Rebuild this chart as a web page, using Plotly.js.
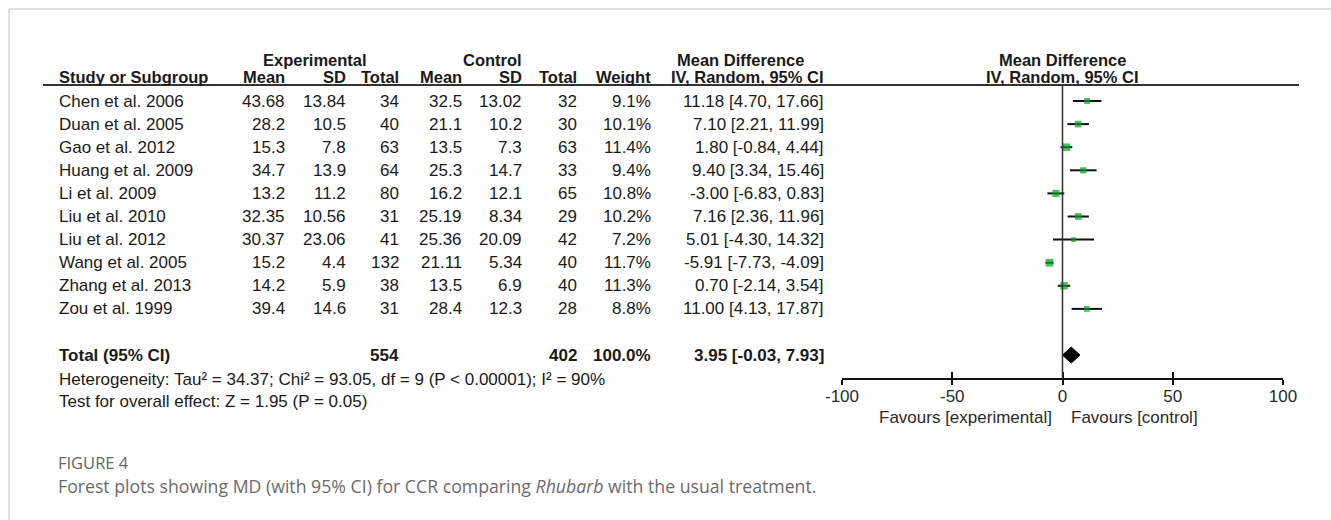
<!DOCTYPE html>
<html>
<head>
<meta charset="utf-8">
<script src="https://cdn.plot.ly/plotly-3.0.1.min.js"></script>
<style>
  html, body { margin: 0; padding: 0; background: #ffffff; }
  #chart { width: 1331px; height: 520px; }
</style>
</head>
<body>
<div id="chart"></div>
<script>
// ---------------- data ----------------
const studies = ["Chen et al. 2006", "Duan et al. 2005", "Gao et al. 2012", "Huang et al. 2009", "Li et al. 2009",
                 "Liu et al. 2010", "Liu et al. 2012", "Wang et al. 2005", "Zhang et al. 2013", "Zou et al. 1999"];
const expMean  = [43.68, 28.2, 15.3, 34.7, 13.2, 32.35, 30.37, 15.2, 14.2, 39.4];
const expSD    = [13.84, 10.5, 7.8, 13.9, 11.2, 10.56, 23.06, 4.4, 5.9, 14.6];
const expN     = [34, 40, 63, 64, 80, 31, 41, 132, 38, 31];
const ctrlMean = [32.5, 21.1, 13.5, 25.3, 16.2, 25.19, 25.36, 21.11, 13.5, 28.4];
const ctrlSD   = [13.02, 10.2, 7.3, 14.7, 12.1, 8.34, 20.09, 5.34, 6.9, 12.3];
const ctrlN    = [32, 30, 63, 33, 65, 29, 42, 40, 40, 28];
const weight   = [9.1, 10.1, 11.4, 9.4, 10.8, 10.2, 7.2, 11.7, 11.3, 8.8];
const md       = [11.18, 7.10, 1.80, 9.40, -3.00, 7.16, 5.01, -5.91, 0.70, 11.00];
const ciLow    = [4.70, 2.21, -0.84, 3.34, -6.83, 2.36, -4.30, -7.73, -2.14, 4.13];
const ciHigh   = [17.66, 11.99, 4.44, 15.46, 0.83, 11.96, 14.32, -4.09, 3.54, 17.87];

const totalLabel  = "Total (95% CI)";
const totalExpN   = 554;
const totalCtrlN  = 402;
const totalWeight = 100.0;
const totalMD     = 3.95;
const totalLow    = -0.03;
const totalHigh   = 7.93;

const heterogeneityText = "Heterogeneity: Tau² = 34.37; Chi² = 93.05, df = 9 (P < 0.00001); I² = 90%";
const overallText       = "Test for overall effect: Z = 1.95 (P = 0.05)";

const tickValues = [-100, -50, 0, 50, 100];
const tickLabels = ["-100", "-50", "0", "50", "100"];
const favoursLeft  = "Favours [experimental]";
const favoursRight = "Favours [control]";

const figureLabel = "FIGURE 4";
const captionText = "Forest plots showing MD (with 95% CI) for CCR comparing <i>Rhubarb</i> with the usual treatment.";

// ---------------- layout helpers ----------------
const W = 1331, H = 520;
const ROW0 = 101, ROWSTEP = 23.1;          // pixel y of first row, row spacing
const px = v => v / W;                      // pixel x -> paper
const py = v => 1 - v / H;                  // pixel y -> paper
const FONT = "'Liberation Sans', Arial, sans-serif";
const CAPFONT = "'Open Sans', 'Noto Sans', sans-serif";
const TXT = "#1a1a1a";
const nRows = studies.length;
const totalRow = nRows + 1;

const fmt2 = v => v.toFixed(2);
const ciStr = (m, l, h) => fmt2(m) + " [" + fmt2(l) + ", " + fmt2(h) + "]";

const annotations = [];
function addText(text, x, y, anchor, opts) {
  opts = opts || {};
  annotations.push({
    text: text, x: x, y: y, xref: "paper", yref: opts.yref || "y",
    xanchor: anchor, yanchor: "middle", showarrow: false,
    font: { family: opts.family || FONT, size: opts.size || 17, color: opts.color || TXT,
            weight: opts.bold ? 700 : 400 },
    borderpad: 0
  });
}

// column right edges (pixels)
const colX = { name: 58, eMean: 286, eSD: 347, eN: 400, cMean: 463, cSD: 523, cN: 578, w: 652, ci: 825 };
const GROUP_Y = 60, HEAD_Y = 77, UNDER_Y = 85, HEAD_SIZE = 16.5;

// headers
const hb = { bold: true, yref: "paper", size: HEAD_SIZE };
addText("Experimental", px(315), py(GROUP_Y), "center", hb);
addText("Control", px(492), py(GROUP_Y), "center", hb);
addText("Mean Difference", px(740), py(GROUP_Y), "center", hb);
addText("Mean Difference", px(1062), py(GROUP_Y), "center", hb);
addText("Study or Subgroup", px(colX.name), py(HEAD_Y), "left", hb);
addText("Mean", px(colX.eMean), py(HEAD_Y), "right", hb);
addText("SD", px(colX.eSD), py(HEAD_Y), "right", hb);
addText("Total", px(colX.eN), py(HEAD_Y), "right", hb);
addText("Mean", px(colX.cMean), py(HEAD_Y), "right", hb);
addText("SD", px(colX.cSD), py(HEAD_Y), "right", hb);
addText("Total", px(colX.cN), py(HEAD_Y), "right", hb);
addText("Weight", px(colX.w), py(HEAD_Y), "right", hb);
addText("IV, Random, 95% CI", px(colX.ci), py(HEAD_Y), "right", hb);
addText("IV, Random, 95% CI", px(1062), py(HEAD_Y), "center", hb);

// study rows
for (let i = 0; i < nRows; i++) {
  addText(studies[i], px(colX.name), i, "left");
  addText(String(expMean[i]), px(colX.eMean), i, "right");
  addText(String(expSD[i]), px(colX.eSD), i, "right");
  addText(String(expN[i]), px(colX.eN), i, "right");
  addText(String(ctrlMean[i]), px(colX.cMean), i, "right");
  addText(String(ctrlSD[i]), px(colX.cSD), i, "right");
  addText(String(ctrlN[i]), px(colX.cN), i, "right");
  addText(weight[i].toFixed(1) + "%", px(colX.w), i, "right");
  addText(ciStr(md[i], ciLow[i], ciHigh[i]), px(colX.ci), i, "right");
}

// total row
addText(totalLabel, px(colX.name), totalRow, "left", { bold: true });
addText(String(totalExpN), px(colX.eN), totalRow, "right", { bold: true });
addText(String(totalCtrlN), px(colX.cN), totalRow, "right", { bold: true });
addText(totalWeight.toFixed(1) + "%", px(colX.w), totalRow, "right", { bold: true });
addText(ciStr(totalMD, totalLow, totalHigh), px(colX.ci), totalRow, "right", { bold: true });

// footnotes
addText(heterogeneityText, px(colX.name), py(379), "left", { yref: "paper" });
addText(overallText, px(colX.name), py(401), "left", { yref: "paper" });

// favours labels
addText(favoursLeft, px(1053), py(417), "right", { yref: "paper", color: "#2a2a2a" });
addText(favoursRight, px(1070), py(417), "left", { yref: "paper", color: "#2a2a2a" });

// caption
addText(figureLabel, px(57), py(462), "left", { yref: "paper", family: CAPFONT, size: 16.5, color: "#666666" });
addText(captionText, px(57), py(486), "left", { yref: "paper", family: CAPFONT, size: 17.7, color: "#6b6b6b" });

// ---------------- traces ----------------
const rowIdx = studies.map((_, i) => i);
const studyTrace = {
  type: "scatter", mode: "markers", x: md, y: rowIdx,
  xaxis: "x", yaxis: "y",
  marker: { symbol: "square", size: weight.map(w => 0.66 * w), color: "#00a41c", line: { width: 0 } },
  error_x: { type: "data", symmetric: false,
             array: md.map((m, i) => ciHigh[i] - m),
             arrayminus: md.map((m, i) => m - ciLow[i]),
             thickness: 2, width: 0, color: "#111111" },
  hoverinfo: "skip", showlegend: false
};

const dh = 8 / ROWSTEP; // half-height of diamond in row units
const diamond = {
  type: "scatter", mode: "lines", fill: "toself",
  x: [totalLow, totalMD, totalHigh, totalMD, totalLow],
  y: [totalRow, totalRow - dh, totalRow, totalRow + dh, totalRow],
  xaxis: "x", yaxis: "y",
  line: { color: "#000000", width: 1 }, fillcolor: "#000000",
  hoverinfo: "skip", showlegend: false
};

// invisible trace to activate second x-axis (outside ticks)
const ghost = { type: "scatter", mode: "markers", x: [tickValues[0]], y: [totalRow],
  xaxis: "x2", yaxis: "y", marker: { opacity: 0 }, hoverinfo: "skip", showlegend: false };

// ---------------- shapes ----------------
const axisPos = py(379);
const shapes = [
  // frame (top & left)
  { type: "line", xref: "paper", yref: "paper", x0: px(9), x1: 1, y0: py(9), y1: py(9), line: { color: "#d6d6d6", width: 1.5 } },
  { type: "line", xref: "paper", yref: "paper", x0: px(9), x1: px(9), y0: py(9), y1: 0, line: { color: "#d6d6d6", width: 1.5 } },
  // header underline
  { type: "line", xref: "paper", yref: "paper", x0: px(43), x1: px(1299), y0: py(UNDER_Y), y1: py(UNDER_Y), line: { color: "#333333", width: 2 } },
  // line of no effect
  { type: "line", xref: "x", yref: "paper", x0: 0, x1: 0, y0: py(UNDER_Y), y1: axisPos, line: { color: "#333333", width: 1.5 } }
];

const xDomain = [px(842), px(1283)];
const layout = {
  width: W, height: H,
  margin: { l: 0, r: 0, t: 0, b: 0 },
  paper_bgcolor: "#ffffff", plot_bgcolor: "rgba(0,0,0,0)",
  showlegend: false,
  xaxis: {
    domain: xDomain, range: [-100, 100], anchor: "free", position: axisPos,
    showgrid: false, zeroline: false, showline: true, linecolor: "#111111", linewidth: 2,
    ticks: "inside", ticklen: 6, tickwidth: 2, tickcolor: "#111111", ticklabelstandoff: 2,
    tickmode: "array", tickvals: tickValues, ticktext: tickLabels,
    tickfont: { family: FONT, size: 17, color: "#2a2a2a" }, fixedrange: true
  },
  xaxis2: {
    domain: xDomain, range: [-100, 100], anchor: "free", position: axisPos, overlaying: "x", matches: "x",
    showgrid: false, zeroline: false, showline: false,
    ticks: "outside", ticklen: 5, tickwidth: 2, tickcolor: "#111111",
    tickmode: "array", tickvals: tickValues, showticklabels: false, fixedrange: true
  },
  yaxis: {
    domain: [0, 1], range: [(H - ROW0) / ROWSTEP, -ROW0 / ROWSTEP],
    visible: false, showgrid: false, zeroline: false, fixedrange: true
  },
  shapes: shapes,
  annotations: annotations
};

Plotly.newPlot("chart", [studyTrace, diamond, ghost], layout, { staticPlot: true, displayModeBar: false });
</script>
</body>
</html>
